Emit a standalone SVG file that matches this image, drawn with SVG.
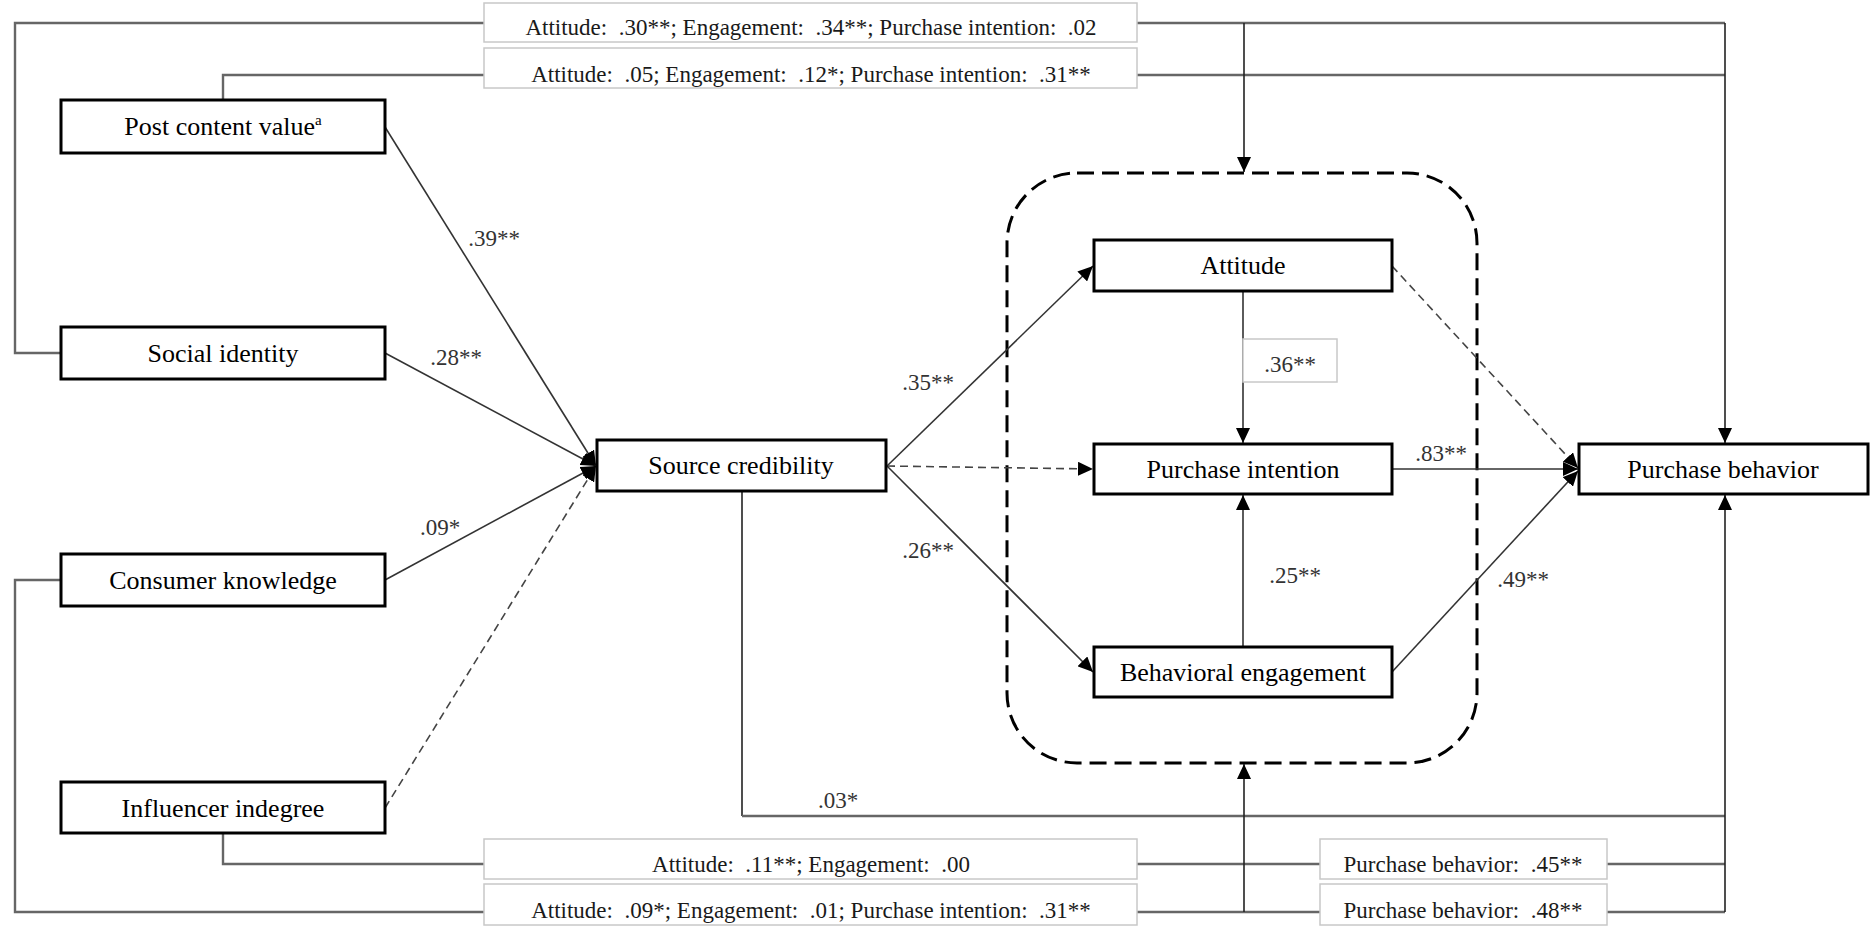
<svg xmlns="http://www.w3.org/2000/svg" width="1876" height="929" viewBox="0 0 1876 929">
  <style>
    .node rect { fill: #fff; stroke: #000; stroke-width: 3; }
    .node text { font-family: "Liberation Serif", "Times New Roman", serif; font-size: 26px; fill: #000; text-anchor: middle; }
    .lbl rect { fill: #fff; stroke: #c8c8c8; stroke-width: 1.5; }
    .lbl text { font-family: "Liberation Serif", "Times New Roman", serif; font-size: 23px; fill: #1a1a1a; text-anchor: middle; }
    .coef { font-family: "Liberation Serif", "Times New Roman", serif; font-size: 23px; fill: #333; text-anchor: middle; }
    .path { fill: none; stroke: #333; stroke-width: 1.6; }
    .dash { fill: none; stroke: #444; stroke-width: 1.6; stroke-dasharray: 8 5; }
    .bracket { fill: none; stroke: #666; stroke-width: 2.4; }
    .thin { fill: none; stroke: #222; stroke-width: 1.6; }
    .group { fill: none; stroke: #000; stroke-width: 3; stroke-dasharray: 17 8; }
  </style>
  <defs>
    <marker id="arr" viewBox="0 0 15 14" refX="15" refY="7" markerWidth="15" markerHeight="14" markerUnits="userSpaceOnUse" orient="auto">
      <path d="M0,0 L15,7 L0,14 z" fill="#000"/>
    </marker>
  </defs>

  <rect width="1876" height="929" fill="#fff"/>

  <!-- mediator group outline -->
  <rect id="mediators" class="group" x="1007" y="173" width="470" height="590" rx="70" ry="70"/>

  <!-- connectors -->
  <g id="connectors">
    <!-- antecedents to source credibility -->
    <path class="path" d="M385,127 L596,466" marker-end="url(#arr)"/>
    <path class="path" d="M385,353 L596,466" marker-end="url(#arr)"/>
    <path class="path" d="M385,580 L596,466" marker-end="url(#arr)"/>
    <path class="dash" d="M385,808 L596,466" marker-end="url(#arr)"/>

    <!-- source credibility to mediators -->
    <path class="path" d="M887,466 L1093,266" marker-end="url(#arr)"/>
    <path class="dash" d="M887,466 L1093,469" marker-end="url(#arr)"/>
    <path class="path" d="M887,466 L1093,672" marker-end="url(#arr)"/>

    <!-- within mediators -->
    <path class="path" d="M1243,291 V443" marker-end="url(#arr)"/>
    <path class="path" d="M1243,647 V495" marker-end="url(#arr)"/>

    <!-- mediators to purchase behavior -->
    <path class="dash" d="M1392,266 L1578,468" marker-end="url(#arr)"/>
    <path class="path" d="M1392,469 L1578,469" marker-end="url(#arr)"/>
    <path class="path" d="M1392,672 L1578,471" marker-end="url(#arr)"/>

    <!-- direct path source credibility to purchase behavior -->
    <path class="thin" d="M742,491 V816"/>
    <path class="bracket" d="M742,816 H1725"/>

    <!-- control variable paths -->
    <path class="bracket" d="M61,353 H15 V23 H484"/>
    <path class="bracket" d="M1137,23 H1725"/>
    <path class="bracket" d="M223,99 V75 H484"/>
    <path class="bracket" d="M1137,75 H1725"/>
    <path class="bracket" d="M223,833 V864 H484"/>
    <path class="bracket" d="M1137,864 H1320"/>
    <path class="bracket" d="M1607,864 H1725"/>
    <path class="bracket" d="M61,580 H15 V912 H484"/>
    <path class="bracket" d="M1137,912 H1320"/>
    <path class="bracket" d="M1607,912 H1725"/>

    <path class="thin" d="M1244,23 V172" marker-end="url(#arr)"/>
    <path class="thin" d="M1244,912 V764" marker-end="url(#arr)"/>
    <path class="thin" d="M1725,23 V443" marker-end="url(#arr)"/>
    <path class="thin" d="M1725,912 V495" marker-end="url(#arr)"/>
  </g>

  <!-- control coefficient labels -->
  <g id="label-top1" class="lbl">
    <rect x="484" y="3" width="653" height="39"/>
    <text x="811" y="35" xml:space="preserve">Attitude:  .30**; Engagement:  .34**; Purchase intention:  .02</text>
  </g>
  <g id="label-top2" class="lbl">
    <rect x="484" y="48" width="653" height="40"/>
    <text x="811" y="82" xml:space="preserve">Attitude:  .05; Engagement:  .12*; Purchase intention:  .31**</text>
  </g>
  <g id="label-bottom1" class="lbl">
    <rect x="484" y="839" width="653" height="40"/>
    <text x="811" y="872" xml:space="preserve">Attitude:  .11**; Engagement:  .00</text>
  </g>
  <g id="label-bottom2" class="lbl">
    <rect x="484" y="884" width="653" height="41"/>
    <text x="811" y="918" xml:space="preserve">Attitude:  .09*; Engagement:  .01; Purchase intention:  .31**</text>
  </g>
  <g id="label-pb1" class="lbl">
    <rect x="1320" y="839" width="287" height="40"/>
    <text x="1463" y="872" xml:space="preserve">Purchase behavior:  .45**</text>
  </g>
  <g id="label-pb2" class="lbl">
    <rect x="1320" y="884" width="287" height="41"/>
    <text x="1463" y="918" xml:space="preserve">Purchase behavior:  .48**</text>
  </g>
  <g id="label-att-pi" class="lbl">
    <rect x="1243" y="339" width="94" height="43"/>
  </g>

  <!-- path coefficients -->
  <g id="coefficients">
    <text class="coef" x="494" y="246">.39**</text>
    <text class="coef" x="456" y="365">.28**</text>
    <text class="coef" x="440" y="535">.09*</text>
    <text class="coef" x="928" y="390">.35**</text>
    <text class="coef" x="928" y="558">.26**</text>
    <text class="coef" x="1290" y="372">.36**</text>
    <text class="coef" x="1295" y="583">.25**</text>
    <text class="coef" x="1441" y="461">.83**</text>
    <text class="coef" x="1523" y="587">.49**</text>
    <text class="coef" x="838" y="808">.03*</text>
  </g>

  <!-- nodes -->
  <g id="post-content-value" class="node">
    <rect x="61" y="100" width="324" height="53"/>
    <text x="223" y="135">Post content value<tspan font-size="15" dy="-10">a</tspan></text>
  </g>
  <g id="social-identity" class="node">
    <rect x="61" y="327" width="324" height="52"/>
    <text x="223" y="362">Social identity</text>
  </g>
  <g id="consumer-knowledge" class="node">
    <rect x="61" y="554" width="324" height="52"/>
    <text x="223" y="589">Consumer knowledge</text>
  </g>
  <g id="influencer-indegree" class="node">
    <rect x="61" y="782" width="324" height="51"/>
    <text x="223" y="817">Influencer  indegree</text>
  </g>
  <g id="source-credibility" class="node">
    <rect x="597" y="440" width="289" height="51"/>
    <text x="741" y="474">Source credibility</text>
  </g>
  <g id="attitude" class="node">
    <rect x="1094" y="240" width="298" height="51"/>
    <text x="1243" y="274">Attitude</text>
  </g>
  <g id="purchase-intention" class="node">
    <rect x="1094" y="444" width="298" height="50"/>
    <text x="1243" y="478">Purchase intention</text>
  </g>
  <g id="behavioral-engagement" class="node">
    <rect x="1094" y="647" width="298" height="50"/>
    <text x="1243" y="681">Behavioral engagement</text>
  </g>
  <g id="purchase-behavior" class="node">
    <rect x="1579" y="444" width="289" height="50"/>
    <text x="1723" y="478">Purchase behavior</text>
  </g>
</svg>
